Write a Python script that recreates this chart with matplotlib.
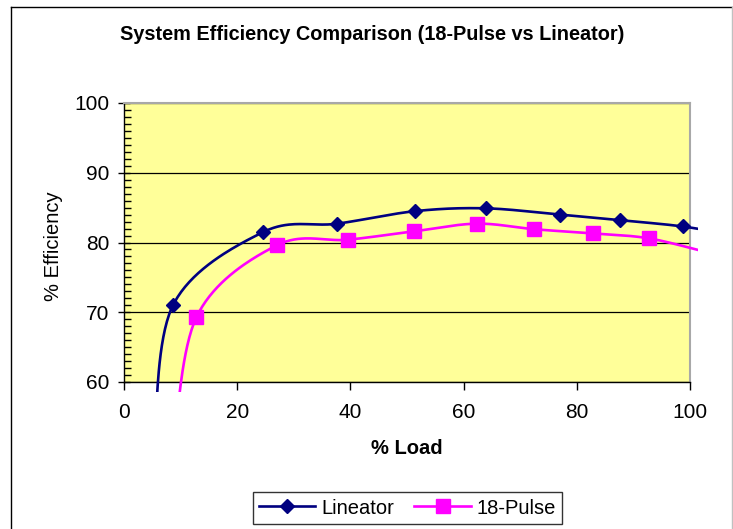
import numpy as np
import matplotlib
matplotlib.use("Agg")
import matplotlib.pyplot as plt
from matplotlib.lines import Line2D
from matplotlib.transforms import Bbox, TransformedBbox

plt.rcParams['font.family'] = ['Liberation Sans', 'DejaVu Sans']

# waarden (eerste/laatste punt ligt buiten het plotgebied)
lineator_load = [5.3, 8.65, 24.6, 37.7, 51.5, 63.9, 77.0, 87.6, 98.7, 108.0]
lineator_eff = [50.0, 71.0, 81.5, 82.7, 84.5, 84.9, 84.0, 83.2, 82.3, 81.0]
pulse_load = [8.5, 12.8, 27.0, 39.6, 51.2, 62.3, 72.5, 82.9, 92.7, 103.0]
pulse_eff = [48.0, 69.3, 79.6, 80.4, 81.6, 82.7, 81.9, 81.3, 80.6, 78.6]

x_ticks = [0, 20, 40, 60, 80, 100]
y_ticks = [60, 70, 80, 90, 100]


def smooth(xs, ys, n=40):
    # Excel-achtige gladde lijn (Catmull-Rom / Bezier)
    p = np.column_stack([xs, ys])
    p = np.vstack([p[0], p, p[-1]])
    out = []
    for i in range(1, len(p) - 2):
        p0, p1, p2, p3 = p[i - 1], p[i], p[i + 1], p[i + 2]
        c1 = p1 + (p2 - p0) / 6
        c2 = p2 - (p3 - p1) / 6
        t = np.linspace(0, 1, n)[:, None]
        seg = ((1 - t) ** 3) * p1 + 3 * ((1 - t) ** 2) * t * c1 + 3 * (1 - t) * t ** 2 * c2 + t ** 3 * p2
        out.append(seg)
    out = np.vstack(out)
    return out[:, 0], out[:, 1]


fig = plt.figure(figsize=(7.33, 5.29), dpi=100)
ax = fig.add_axes([124 / 733, 1 - 382 / 529, 566 / 733, 279 / 529])
ax.set_facecolor('#FFFF99')

clip = TransformedBbox(Bbox([[-0.02, -0.036], [1.015, 1.0]]), ax.transAxes)

series = [
    (lineator_load, lineator_eff, '#000080', 'D', 7.3, 'Lineator'),
    (pulse_load, pulse_eff, '#FF00FF', 's', 10.5, '18-Pulse'),
]
handles = []
for xs, ys, col, mk, ms, name in series:
    sx, sy = smooth(xs, ys)
    ln, = ax.plot(sx, sy, color=col, lw=1.9, zorder=3)
    ln.set_clip_box(clip)
    # markers alleen binnen het plotgebied
    xs_a = np.array(xs)
    ys_a = np.array(ys)
    inside = (xs_a >= 0) & (xs_a <= 100) & (ys_a >= 60) & (ys_a <= 100)
    ax.plot(xs_a[inside], ys_a[inside], ls='none', marker=mk, ms=ms, color=col, mec=col, zorder=4)
    handles.append(Line2D([], [], color=col, lw=1.9, marker=mk, ms=ms, mec=col, label=name))

ax.set_xlim(0, 100)
ax.set_ylim(60, 100)
ax.set_xticks(x_ticks)
ax.set_yticks(y_ticks)
ax.set_yticks(np.arange(60, 101, 1), minor=True)
ax.tick_params(axis='y', which='major', direction='inout', length=9, width=1, labelsize=15, pad=6)
ax.tick_params(axis='y', which='minor', direction='in', length=5, width=1)
ax.tick_params(axis='x', which='major', direction='out', length=6, width=1, labelsize=15, pad=9)
ax.grid(axis='y', which='major', color='black', lw=0.9)
ax.set_axisbelow(True)

for s in ['top', 'right']:
    ax.spines[s].set_color('#A8A8A8')
    ax.spines[s].set_linewidth(1.5)
for s in ['left', 'bottom']:
    ax.spines[s].set_color('black')
    ax.spines[s].set_linewidth(1)

ax.set_xlabel('% Load', fontsize=14.5, fontweight='bold')
ax.xaxis.set_label_coords(0.5, -0.205)
ax.set_ylabel('% Efficiency', fontsize=14.5)
ax.yaxis.set_label_coords(-0.108, 0.485)

fig.text(372 / 733, 1 - 35 / 529, 'System Efficiency Comparison (18-Pulse vs Lineator)',
         fontsize=14.3, fontweight='bold', ha='center', va='center')

leg = fig.legend(handles=handles, loc='center', bbox_to_anchor=(407.5 / 733, 1 - 508 / 529),
                 ncol=2, fontsize=14.5, frameon=True, fancybox=False, handlelength=2.8,
                 handletextpad=0.3, columnspacing=1.0, borderpad=0.3)
leg.get_frame().set_edgecolor('black')
leg.get_frame().set_linewidth(1)

# rand van het grafiekgebied
fig.add_artist(Line2D([11 / 733, 11 / 733], [0, 1 - 7 / 529], color='black', lw=1, transform=fig.transFigure))
fig.add_artist(Line2D([11 / 733, 1], [1 - 7 / 529, 1 - 7 / 529], color='black', lw=1, transform=fig.transFigure))
fig.add_artist(Line2D([0.9993, 0.9993], [0, 1 - 7 / 529], color='#C0C0C0', lw=1, transform=fig.transFigure))

fig.savefig('out.png', dpi=100)
